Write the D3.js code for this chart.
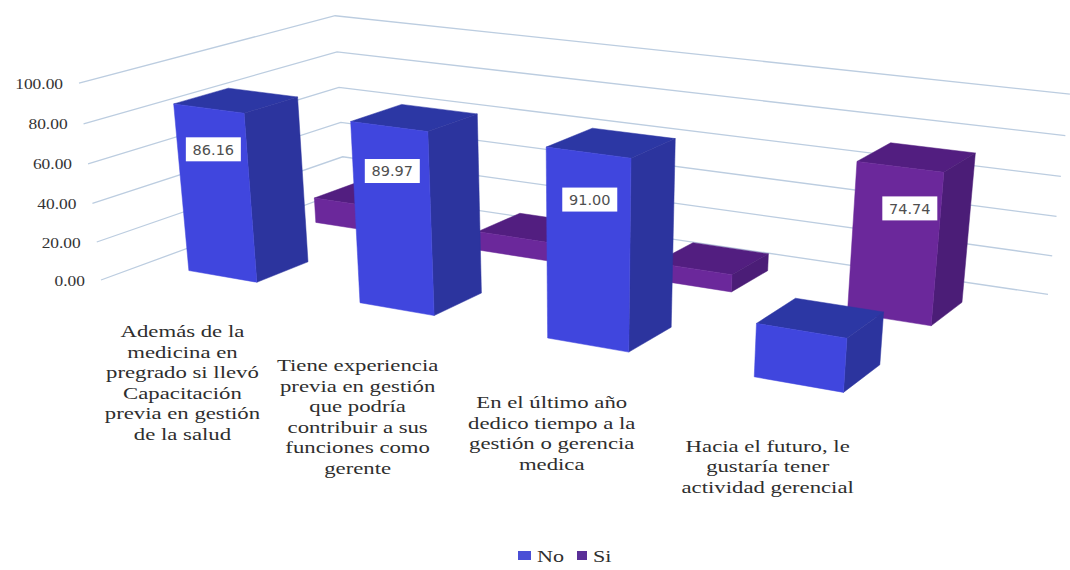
<!DOCTYPE html>
<html>
<head>
<meta charset="utf-8">
<script src="https://cdnjs.cloudflare.com/ajax/libs/d3/7.8.5/d3.min.js"></script>
<style>
  html, body { margin: 0; padding: 0; background: #ffffff; }
  svg { display: block; }
</style>
</head>
<body>
<svg id="chart" width="1070" height="570"></svg>
<script>
// Survey answers per question
const categoryLines = [
  ["Además de la", "medicina en", "pregrado si llevó", "Capacitación", "previa en gestión", "de la salud"],
  ["Tiene experiencia", "previa en gestión", "que podría", "contribuir a sus", "funciones como", "gerente"],
  ["En el último año", "dedico tiempo a la", "gestión o gerencia", "medica"],
  ["Hacia el futuro, le", "gustaría tener", "actividad gerencial"]
];
const seriesNames = ["No", "Si"];
const noValues = [86.16, 89.97, 91.00, 25.26];
const siValues = [13.84, 10.03, 9.00, 74.74];
const labelledNo = [true, true, true, false];
const labelledSi = [false, false, false, true];

const palette = {
  No: { front: "#4046de", side: "#2c349e", top: "#2c37a4" },
  Si: { front: "#6b289b", side: "#4b1d77", top: "#521e80" }
};
const gridColor = "#bccde0";
const serif = "'Liberation Serif', serif";

const svg = d3.select("#chart");

// World axes: x along the questions, z along the series, y for the percentage.
const x = d3.scaleBand().domain(d3.range(categoryLines.length)).range([-0.0127, 1.0173]);
const z = d3.scaleBand().domain(seriesNames).range([0.0105, 1.05]);
const y = d3.scaleLinear().domain([0, 100]).range([0, 1]);
const barWidth = 0.102;
const barDepth = 0.205;
const rowDrift = 0.0175;    // rows of bars run slightly askew from the back wall
const rowShear = 0.0059;    // and lean a little towards the left with depth

// Perspective camera: world point to screen point.
function project(wx, wy, wz) {
  const w = 1 - 0.16208 * wx - 0.0439 * wy + 0.14277 * wz;
  return [
    (101 + 634.06 * wx - 25.46 * wy + 292.68 * wz) / w,
    (280 + 70.83 * wx - 200.6 * wy - 62.1 * wz) / w
  ];
}
const openLine = d3.line();
const closedLine = d3.line().curve(d3.curveLinearClosed);

// Wall gridlines: front of left wall, back corner, end of back wall.
const ticks = y.ticks(6);
svg.append("g").attr("fill", "none").attr("stroke", gridColor).attr("stroke-width", 1.3)
  .selectAll("path").data(ticks).join("path")
  .attr("d", t => openLine([project(0, y(t), 0), project(0, y(t), 1), project(1, y(t), 1)]));

// Value axis labels at the open end of the left wall.
const fmt = d3.format(".2f");
svg.append("g").selectAll("text").data(ticks).join("text")
  .attr("transform", t => {
    const p = project(0, y(t), 0);
    return `translate(${p[0] - 16},${p[1] + 5.5}) scale(1.2,1)`;
  })
  .attr("text-anchor", "end")
  .attr("font-family", serif)
  .attr("font-size", 14.5)
  .attr("fill", "#333333")
  .text(fmt);

const frontOf = (name, i) => z(name) + (z.bandwidth() - barDepth) / 2 - rowDrift * i;
const sheared = (i, wx, wy, wz) => project(wx - rowShear * i * wz, wy, wz);

// Bars are painted back series first so the nearer row overlaps it.
function drawBars(name, values) {
  const colors = palette[name];
  const g = svg.append("g");
  values.forEach((v, i) => {
    const x0 = x(i) + (x.bandwidth() - barWidth) / 2;
    const x1 = x0 + barWidth;
    const z0 = frontOf(name, i);
    const z1 = z0 + barDepth;
    const h = y(v);
    const faces = [
      { fill: colors.top, pts: [[x0, h, z0], [x1, h, z0], [x1, h, z1], [x0, h, z1]] },
      { fill: colors.side, pts: [[x1, 0, z0], [x1, h, z0], [x1, h, z1], [x1, 0, z1]] },
      { fill: colors.front, pts: [[x0, 0, z0], [x0, h, z0], [x1, h, z0], [x1, 0, z0]] }
    ];
    g.selectAll(null).data(faces).join("path")
      .attr("fill", d => d.fill)
      .attr("stroke", d => d.fill)
      .attr("stroke-width", 0.5)
      .attr("d", d => closedLine(d.pts.map(p => sheared(i, p[0], p[1], p[2]))));
  });
}
drawBars("Si", siValues);
drawBars("No", noValues);

// White value tags sit on the front face of the labelled bars.
function drawTags(name, values, shown, heightShare, sideShift) {
  values.forEach((v, i) => {
    if (!shown[i]) return;
    const cx = x(i) + x.bandwidth() / 2 + sideShift;
    const p = sheared(i, cx, y(v) * heightShare, frontOf(name, i));
    svg.append("rect")
      .attr("x", p[0] - 27.5).attr("y", p[1] - 12)
      .attr("width", 55).attr("height", 24)
      .attr("fill", "#ffffff");
    svg.append("text")
      .attr("x", p[0]).attr("y", p[1] + 5.2)
      .attr("text-anchor", "middle")
      .attr("font-family", "'DejaVu Sans', sans-serif")
      .attr("font-size", 14.5)
      .attr("fill", "#4f4f4f")
      .text(fmt(v));
  });
}
drawTags("No", noValues, labelledNo, 0.765, 0.002);
drawTags("Si", siValues, labelledSi, 0.745, 0.015);

// Question labels hang below the front edge of the floor.
const labelOffsets = [[4.5, 43.3], [-2, 44.8], [-6.5, 46.3], [-8.5, 51]];
categoryLines.forEach((lines, i) => {
  const p = project(x(i) + x.bandwidth() / 2, 0, 0);
  const [dx, dy] = labelOffsets[i];
  svg.append("g").selectAll("text").data(lines).join("text")
    .attr("transform", (d, k) => `translate(${p[0] + dx},${p[1] + dy + k * 20.6}) scale(1.3,1)`)
    .attr("text-anchor", "middle")
    .attr("font-family", serif)
    .attr("font-size", 17.5)
    .attr("fill", "#2e2e2e")
    .text(d => d);
});

// Legend
const legendItems = [
  { name: "No", sx: 518, sw: 13, tx: 537, fill: "#4a4fd6" },
  { name: "Si", sx: 577, sw: 10, tx: 593, fill: "#5a2f98" }
];
legendItems.forEach(it => {
  svg.append("rect").attr("x", it.sx).attr("y", 551).attr("width", it.sw).attr("height", 9)
    .attr("fill", it.fill);
  svg.append("text")
    .attr("transform", `translate(${it.tx},561.5) scale(1.3,1)`)
    .attr("font-family", serif).attr("font-size", 17).attr("fill", "#2e2e2e")
    .text(it.name);
});
</script>
</body>
</html>
